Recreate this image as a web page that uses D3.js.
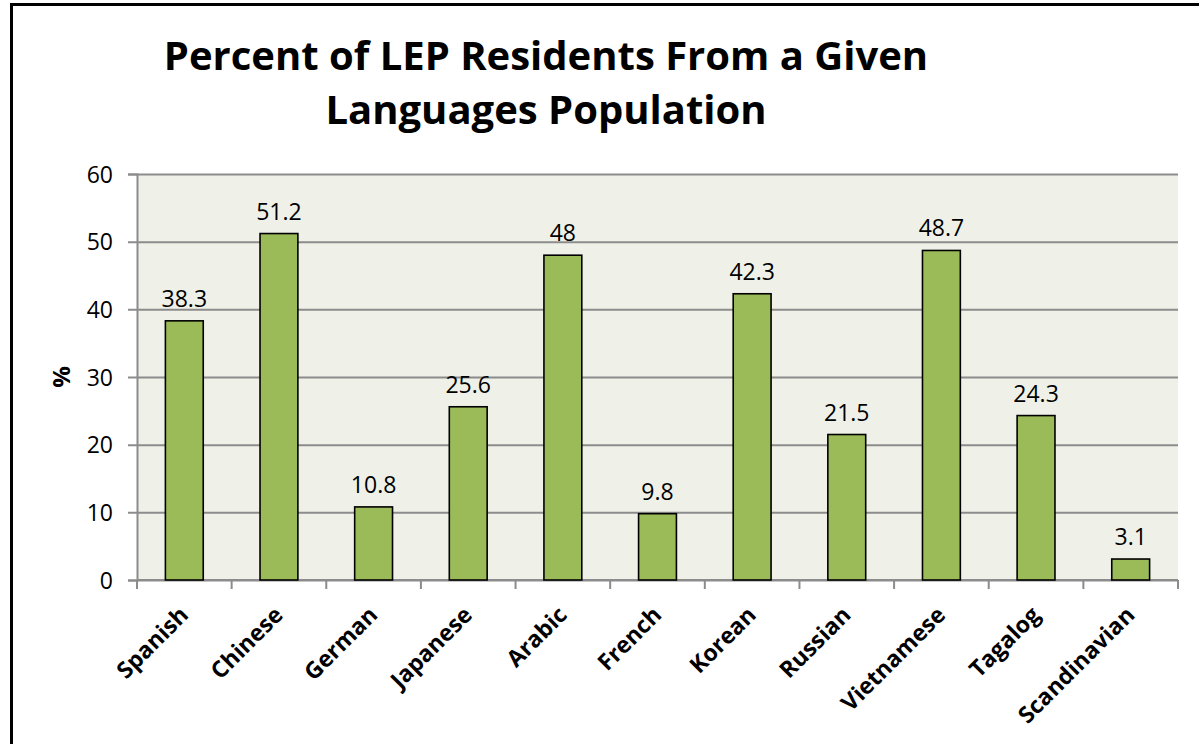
<!DOCTYPE html>
<html>
<head>
<meta charset="utf-8">
<script src="https://cdn.jsdelivr.net/npm/d3@7"></script>
<style>
  body { margin: 0; background: #fff; }
  text { font-family: "Open Sans", sans-serif; fill: #000; }
</style>
</head>
<body>
<div id="chart"></div>
<script>
// chart data
var languages = ["Spanish", "Chinese", "German", "Japanese", "Arabic", "French",
                 "Korean", "Russian", "Vietnamese", "Tagalog", "Scandinavian"];
var percents = [38.3, 51.2, 10.8, 25.6, 48, 9.8, 42.3, 21.5, 48.7, 24.3, 3.1];
var yTicks = [0, 10, 20, 30, 40, 50, 60];
var titleLines = ["Percent of LEP Residents From a Given", "Languages Population"];

var width = 1199, height = 744;
var plot = { left: 137, right: 1178, top: 174, bottom: 580 };

var svg = d3.select('#chart').append('svg')
  .attr('width', width)
  .attr('height', height);

// outer frame of the chart
svg.append('rect')
  .attr('x', 11.5).attr('y', 4.5)
  .attr('width', width + 20).attr('height', height + 20)
  .style('fill', '#fff')
  .style('stroke', '#000')
  .style('stroke-width', 3);

var x = d3.scaleBand()
  .domain(languages)
  .range([plot.left, plot.right])
  .paddingInner(0.6)
  .paddingOuter(0.3);

var y = d3.scaleLinear()
  .domain([0, 60])
  .range([plot.bottom, plot.top]);

// plot background
svg.append('rect')
  .attr('x', plot.left).attr('y', plot.top)
  .attr('width', plot.right - plot.left)
  .attr('height', plot.bottom - plot.top)
  .style('fill', '#eff1e9');

// gridlines + y axis
var yAxis = svg.append('g')
  .attr('transform', 'translate(' + plot.left + ',0)')
  .call(d3.axisLeft(y).tickValues(yTicks).tickSize(9).tickPadding(15)
    .tickFormat(d3.format('d')));
yAxis.select('.domain').style('stroke', '#8c8c8c').style('stroke-width', 2);
yAxis.selectAll('.tick line').attr('x2', plot.right - plot.left).attr('x1', -9)
  .style('stroke', '#8c8c8c').style('stroke-width', 2);
yAxis.selectAll('.tick text')
  .style('font-size', '23px')
  .attr('dy', '0.36em');

// x axis with tick marks at the category edges
var xAxis = svg.append('g')
  .attr('transform', 'translate(0,' + plot.bottom + ')');
xAxis.append('line')
  .attr('x1', plot.left).attr('x2', plot.right)
  .style('stroke', '#8c8c8c').style('stroke-width', 2);
var edges = languages.map(function(d){ return x(d) - x.step() * x.paddingInner() / 2; })
  .concat([plot.right]);
xAxis.selectAll('.edge-tick')
  .data(edges).enter()
  .append('line').attr('class', 'edge-tick')
  .attr('x1', function(d){ return d; })
  .attr('x2', function(d){ return d; })
  .attr('y1', 0).attr('y2', 9)
  .style('stroke', '#8c8c8c').style('stroke-width', 2);

// bars
svg.selectAll('.lang-bar')
  .data(percents).enter()
  .append('rect').attr('class', 'lang-bar')
  .attr('x', function(d, i){ return x(languages[i]); })
  .attr('y', function(d){ return y(d); })
  .attr('width', x.bandwidth())
  .attr('height', function(d){ return y(0) - y(d); })
  .style('fill', '#9bbb59')
  .style('stroke', '#000')
  .style('stroke-width', 1.6);

// value labels
svg.selectAll('.value-label')
  .data(percents).enter()
  .append('text').attr('class', 'value-label')
  .attr('x', function(d, i){ return x(languages[i]) + x.bandwidth() / 2; })
  .attr('y', function(d){ return y(d) - 14; })
  .attr('text-anchor', 'middle')
  .style('font-size', '23px')
  .text(function(d){ return d; });

// category labels, rotated
svg.selectAll('.cat-label')
  .data(languages).enter()
  .append('text').attr('class', 'cat-label')
  .attr('transform', function(d){
    return 'translate(' + (x(d) + x.bandwidth() / 2 - 6) + ',' + 605 + ') rotate(-45)';
  })
  .attr('text-anchor', 'end')
  .attr('dy', '0.7em')
  .style('font-size', '23px')
  .style('font-weight', 'bold')
  .text(function(d){ return d; });

// y axis title
svg.append('text')
  .attr('transform', 'translate(62,' + y(30) + ') rotate(-90)')
  .attr('text-anchor', 'middle')
  .attr('dy', '0.35em')
  .style('font-size', '24px')
  .style('font-weight', 'bold')
  .text('%');

// title
svg.selectAll('.title-line')
  .data(titleLines).enter()
  .append('text').attr('class', 'title-line')
  .attr('x', 546)
  .attr('y', function(d, i){ return 70 + i * 54; })
  .attr('text-anchor', 'middle')
  .style('font-size', '40px')
  .style('font-weight', 'bold')
  .text(function(d){ return d; });
</script>
</body>
</html>
